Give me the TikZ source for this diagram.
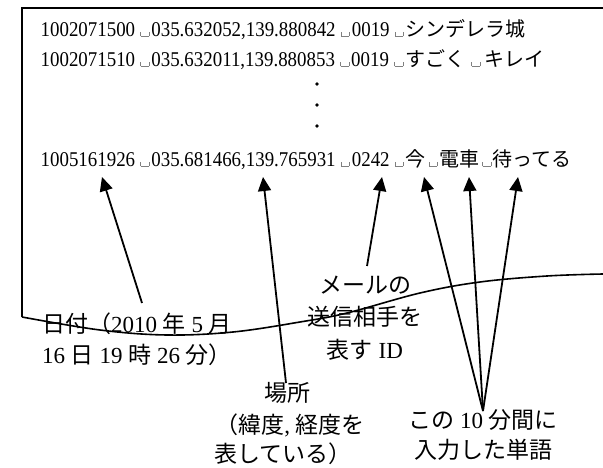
\documentclass[tikz,border=0pt]{standalone}
\usepackage{fontspec}
\setmainfont{Liberation Serif}
\newfontfamily\latn[FakeStretch=0.9]{Liberation Serif}
\newfontfamily\jfont{Noto Sans CJK JP}
\usetikzlibrary{arrows.meta}
\newcommand{\ja}[1]{{\jfont #1}}
\newcommand{\vsp}{\hspace{5pt}\textcolor{gray}{\rule{0.6pt}{4.5pt}\rule{8pt}{0.6pt}\rule{0.6pt}{4.5pt}}\hspace{2pt}}
\newcommand{\wvsp}{\hspace{6pt}\textcolor{gray}{\rule{0.6pt}{4.5pt}\rule{8pt}{0.6pt}\rule{0.6pt}{4.5pt}}\hspace{4pt}}
\newcommand{\jvsp}{\hspace{3pt}\textcolor{gray}{\rule{0.6pt}{4.5pt}\rule{8pt}{0.6pt}\rule{0.6pt}{4.5pt}}\hspace{1pt}}
\begin{document}
\begin{tikzpicture}[x=1pt,y=-1pt,
  mainline/.style={anchor=base west,inner sep=0pt,font=\latn\fontsize{21}{24}\selectfont},
  lbl/.style={anchor=base,inner sep=0pt,font=\fontsize{23}{27}\selectfont},
  lblw/.style={anchor=base west,inner sep=0pt,font=\fontsize{23}{27}\selectfont},
  pointer/.style={line width=1.8pt,-{Triangle[length=14pt,width=13pt]}}]
\useasboundingbox (0,0) rectangle (603,468);
% torn page outline
\draw[line width=2pt] (603,8) -- (22,8) -- (22,317);
\draw[line width=1.6pt] plot[smooth,tension=0.6] coordinates {(22,317) (100,330) (167,335) (233,332) (300,322) (347,313) (420,293) (480,282) (547,276) (603,274)};
% data lines
\node[mainline] (l1) at (40.5,36.5) {1002071500\vsp035.632052,139.880842\vsp0019\vsp{\fontsize{20}{24}\selectfont\ja{シンデレラ城}}};
\node[mainline] (l2) at (40.5,66.5) {1002071510\vsp035.632011,139.880853\vsp0019\vsp{\fontsize{20}{24}\selectfont\ja{すごく}\wvsp\ja{キレイ}}};
\node[mainline] (l3) at (40.5,166.5) {1005161926\vsp035.681466,139.765931\vsp0242\vsp{\fontsize{20}{24}\selectfont\ja{今}\jvsp\ja{電車}\jvsp\ja{待ってる}}};
\foreach \yy in {84,105,126} \fill (317,\yy) circle (1.8pt);
% labels
\node[lblw] (date1) at (42,332) {\ja{日付（}2010 \ja{年} 5 \ja{月}};
\node[lblw] (date2) at (42,363) {16 \ja{日} 19 \ja{時} 26 \ja{分）}};
\node[lbl] (id1) at (365,293) {\ja{メールの}};
\node[lbl] (id2) at (365,325) {\ja{送信相手を}};
\node[lbl] (id3) at (365,358) {\ja{表す} ID};
\node[lbl] (loc1) at (287,401) {\ja{場所}};
\node[lbl] (loc2) at (290,433) {\ja{（緯度}, \ja{経度を}};
\node[lbl] (loc3) at (283,462) {\ja{表している）}};
\node[lbl] (w1) at (483,428) {\ja{この} 10 \ja{分間に}};
\node[lbl] (w2) at (483,458) {\ja{入力した単語}};
% arrow ends
\coordinate (tDate) at (142,303);
\coordinate (hDate) at (102,177);
\coordinate (tLoc) at (286,383);
\coordinate (hLoc) at (263,177);
\coordinate (tId) at (367,266);
\coordinate (hId) at (382,177);
\coordinate (tW) at (483,411);
\coordinate (hW1) at (424,177);
\coordinate (hW2) at (469,177);
\coordinate (hW3) at (518,177);
\draw[pointer] (tDate) -- (hDate);
\draw[pointer] (tLoc) -- (hLoc);
\draw[pointer] (tId) -- (hId);
\draw[pointer] (tW) -- (hW1);
\draw[pointer] (tW) -- (hW2);
\draw[pointer] (tW) -- (hW3);
\end{tikzpicture}
\end{document}
